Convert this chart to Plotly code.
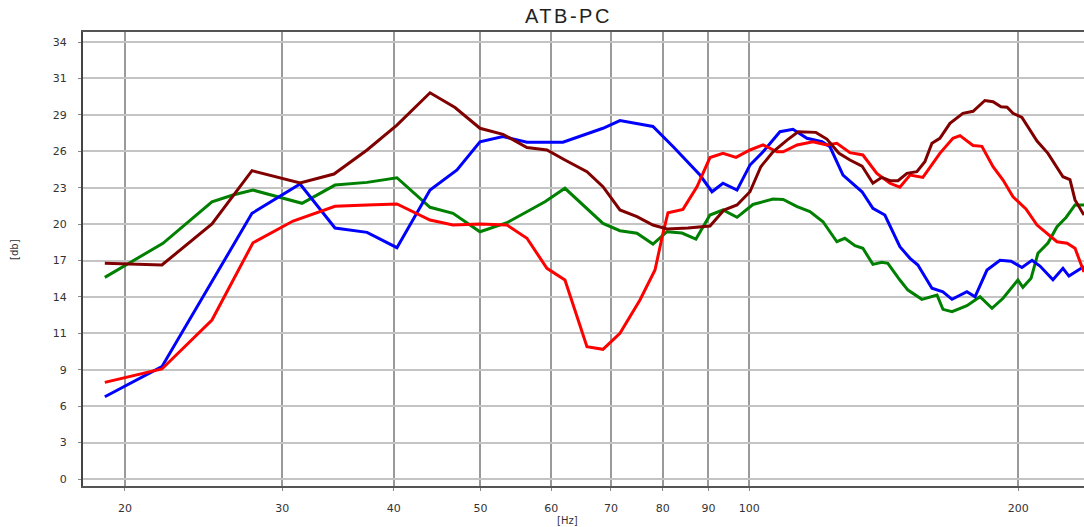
import plotly.graph_objects as go

# Frequency-response curves (frequency in Hz, level in dB)
blue_hz = [18.99, 22.00, 27.75, 31.41, 34.37, 37.33, 40.32, 43.91, 47.07, 49.94,
           52.99, 56.37, 61.85, 68.57, 71.64, 78.00, 82.34, 85.15, 88.05, 90.82,
           93.43, 96.87, 100.16, 103.6, 108.2, 111.9, 116.0, 120.6, 123.1, 127.3,
           133.7, 137.5, 141.8, 147.4, 151.3, 154.4, 160.1, 164.7, 168.6, 175.2,
           178.9, 184.5, 190.8, 196.3, 201.9, 207.2, 211.5, 218.7, 224.4, 227.9,
           235.7, 236.9]
blue_db = [6.40, 8.74, 20.67, 22.95, 19.53, 19.19, 18.00, 22.48, 24.04, 26.24,
           26.65, 26.20, 26.20, 27.29, 27.89, 27.43, 25.79, 24.69, 23.65, 22.35,
           23.01, 22.48, 24.43, 25.46, 27.02, 27.21, 26.51, 26.24, 25.85, 23.65,
           22.35, 21.06, 20.54, 18.07, 17.17, 16.65, 14.84, 14.57, 13.98, 14.57,
           14.18, 16.26, 17.02, 16.94, 16.46, 17.02, 16.57, 15.51, 16.39, 15.79,
           16.46, 16.53]

red_hz = [18.99, 22.00, 25.03, 27.82, 30.85, 34.37, 37.33, 40.32, 43.91, 46.59,
          49.94, 53.54, 56.37, 59.35, 62.17, 65.80, 68.57, 71.64, 75.43, 78.41,
          80.04, 81.08, 84.27, 87.37, 90.35, 93.43, 96.62, 100.16, 103.6, 107.4,
          109.1, 113.1, 117.8, 122.1, 125.3, 129.6, 134.0, 138.9, 143.7, 147.4,
          151.3, 156.4, 163.4, 169.0, 172.1, 178.0, 182.1, 187.4, 192.3, 197.3,
          204.0, 209.9, 221.0, 226.8, 231.5, 236.9]
red_db = [7.52, 8.56, 12.37, 18.38, 20.07, 21.22, 21.32, 21.40, 20.15, 19.76,
          19.84, 19.76, 18.73, 16.39, 15.48, 10.29, 10.09, 11.34, 13.93, 16.26,
          19.12, 20.72, 20.98, 22.74, 25.01, 25.34, 25.03, 25.60, 25.99, 25.46,
          25.46, 25.99, 26.24, 25.99, 26.12, 25.39, 25.21, 23.78, 23.01, 22.70,
          23.65, 23.47, 25.34, 26.51, 26.72, 25.95, 25.88, 24.30, 23.26, 21.96,
          21.01, 19.76, 18.46, 18.34, 17.95, 16.10]

green_hz = [18.99, 19.90, 22.06, 25.03, 26.42, 27.82, 31.57, 34.37, 37.33, 40.32,
            43.91, 46.59, 49.94, 53.54, 59.05, 62.17, 68.57, 71.64, 74.85, 78.00,
            80.87, 84.06, 87.14, 90.35, 93.43, 96.87, 100.94, 106.3, 109.1, 113.1,
            116.9, 120.9, 125.3, 127.9, 131.3, 134.0, 137.5, 140.7, 142.9, 147.4,
            150.5, 156.0, 162.2, 164.7, 168.6, 175.2, 181.2, 186.9, 192.3, 199.8,
            202.4, 206.7, 210.4, 215.9, 221.0, 226.2, 231.5, 236.9]
green_db = [15.69, 16.52, 18.34, 21.57, 22.10, 22.48, 21.45, 22.87, 23.08, 23.44,
            21.14, 20.67, 19.24, 19.94, 21.57, 22.62, 19.89, 19.32, 19.12, 18.28,
            19.24, 19.14, 18.67, 20.54, 20.93, 20.36, 21.36, 21.78, 21.75, 21.19,
            20.80, 20.02, 18.46, 18.73, 18.15, 17.95, 16.70, 16.86, 16.78, 15.48,
            14.70, 13.98, 14.32, 13.20, 13.02, 13.48, 14.18, 13.28, 14.06, 15.48,
            14.91, 15.61, 17.56, 18.36, 19.63, 20.35, 21.32, 21.32]

maroon_hz = [18.99, 20.10, 22.00, 25.03, 27.75, 31.41, 34.28, 37.33, 40.32, 43.91,
             46.83, 49.94, 52.99, 56.37, 59.35, 62.17, 65.80, 68.57, 71.64, 74.85,
             78.00, 80.87, 85.37, 90.35, 93.67, 96.87, 100.16, 103.0, 106.3, 110.2,
             113.4, 118.7, 122.1, 126.0, 129.6, 133.7, 137.5, 140.7, 143.7, 146.7,
             150.1, 154.0, 157.2, 160.1, 163.4, 167.7, 173.4, 178.0, 183.5, 187.4,
             191.3, 194.3, 197.3, 201.9, 209.9, 215.9, 224.4, 228.5, 231.5, 236.9]
maroon_db = [16.78, 16.73, 16.65, 19.84, 23.99, 23.03, 23.73, 25.60, 27.54, 30.05,
             28.90, 27.29, 26.82, 25.79, 25.60, 24.82, 23.91, 22.74, 20.93, 20.41,
             19.76, 19.45, 19.53, 19.68, 20.93, 21.32, 22.35, 24.30, 25.46, 26.37,
             27.02, 26.97, 26.45, 25.34, 24.82, 24.35, 23.01, 23.47, 23.21, 23.21,
             23.78, 23.91, 24.69, 26.12, 26.51, 27.67, 28.45, 28.61, 29.45, 29.35,
             28.97, 28.92, 28.45, 28.14, 26.30, 25.34, 23.52, 23.30, 21.71, 20.54]

# Axis ticks
x_ticks = [20, 30, 40, 50, 60, 70, 80, 90, 100, 200]
x_tick_labels = ["20", "30", "40", "50", "60", "70", "80", "90", "100", "200"]
y_tick_labels = ["0", "3", "6", "9", "11", "14", "17", "20", "23", "26", "29", "31", "34"]
y_ticks = [i * 34 / 12 for i in range(len(y_tick_labels))]

series = [
    (green_hz, green_db, "#008000"),
    (blue_hz, blue_db, "#0000ff"),
    (red_hz, red_db, "#ff0000"),
    (maroon_hz, maroon_db, "#800000"),
]

fig = go.Figure()
for xs, ys, color in series:
    fig.add_trace(go.Scatter(x=xs, y=ys, mode="lines",
                             line=dict(color=color, width=3),
                             showlegend=False, hoverinfo="skip"))

font_main = "Liberation Sans, Arial, sans-serif"
font_ticks = "DejaVu Sans, Verdana, sans-serif"

fig.update_layout(
    width=1084, height=527,
    margin=dict(l=83, r=0, t=32, b=41),
    paper_bgcolor="white", plot_bgcolor="white",
    font=dict(family=font_ticks, size=11, color="#222222"),
    showlegend=False,
    xaxis=dict(
        type="log", range=[1.2541, 2.3746],
        tickvals=x_ticks, ticktext=x_tick_labels,
        showgrid=True, gridcolor="#9a9a9a", gridwidth=1.5,
        showline=True, linecolor="#555555", linewidth=2, mirror=True,
        ticks="outside", ticklen=3, tickcolor="#888888",
        ticklabelstandoff=8, zeroline=False,
        tickfont=dict(size=11, color="#333333", family=font_ticks),
    ),
    yaxis=dict(
        range=[-0.545, 34.78],
        tickvals=y_ticks, ticktext=y_tick_labels,
        showgrid=True, gridcolor="#c4c4c4", gridwidth=2,
        showline=True, linecolor="#444444", linewidth=2,
        ticks="outside", ticklen=3, tickcolor="#888888",
        ticklabelstandoff=9, zeroline=False,
        tickfont=dict(size=11, color="#333333", family=font_ticks),
    ),
    annotations=[
        dict(text='<span style="letter-spacing:2.5px">ATB-PC</span>',
             xref="paper", yref="paper", x=0.4845, y=1.0, xshift=1,
             yshift=16, showarrow=False, xanchor="center", yanchor="middle",
             font=dict(size=20, color="#222222", family=font_main)),
        dict(text="[Hz]", xref="paper", yref="paper", x=0.4845, y=0,
             yshift=-34, showarrow=False, xanchor="center", yanchor="middle",
             font=dict(size=10, color="#333333", family=font_ticks)),
        dict(text="[db]", xref="paper", yref="paper", x=0, y=0.52,
             xshift=-68, showarrow=False, xanchor="center", yanchor="middle",
             textangle=-90,
             font=dict(size=10, color="#333333", family=font_ticks)),
    ],
)

fig.write_html("out.html")
